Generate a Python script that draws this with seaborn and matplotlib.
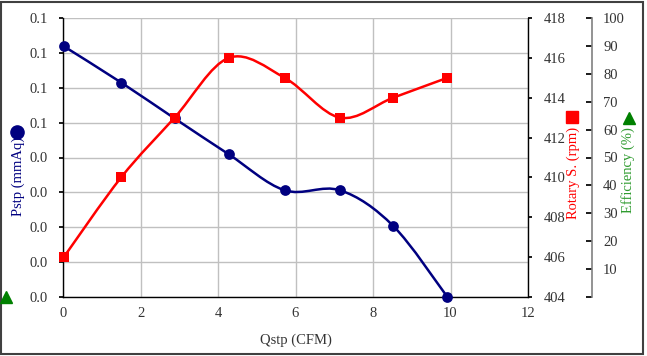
import numpy as np
import pandas as pd
import matplotlib
matplotlib.use('Agg')
import matplotlib.pyplot as plt
from matplotlib.path import Path
from matplotlib.patches import PathPatch, Rectangle
from matplotlib.lines import Line2D
import seaborn as sns

# data
qstp = [0.02, 1.5, 2.88, 4.28, 5.72, 7.15, 8.52, 9.92]
pstp = [0.0719, 0.0615, 0.0512, 0.0409, 0.0306, 0.0306, 0.0204, 0.0]
rpm = [406, 410, 413, 416, 415, 413, 414, 415]

x_ticks = [0, 2, 4, 6, 8, 10, 12]
p_ticks = [0.0, 0.01, 0.02, 0.03, 0.04, 0.05, 0.06, 0.07, 0.08]
p_tick_labels = ['0.0', '0.0', '0.0', '0.0', '0.0', '0.1', '0.1', '0.1', '0.1']
rpm_ticks = [404, 406, 408, 410, 412, 414, 416, 418]
eff_ticks = [0, 10, 20, 30, 40, 50, 60, 70, 80, 90, 100]
eff_tick_labels = [''] + [str(v) for v in eff_ticks[1:]]

df = pd.DataFrame({'Qstp': qstp, 'Pstp': pstp, 'rpm': rpm})

sns.set_theme(style='white')
plt.rcParams['font.family'] = ['Liberation Serif', 'DejaVu Serif']
plt.rcParams['font.size'] = 10.5

NAVY = '#000080'
RED = '#FF0000'
GREEN = '#008000'
GRID = '#c0c0c0'
TXT = '#333333'


def smooth_path(xs, ys):
    # Excel style smoothed line: cubic bezier through the points
    pts = np.column_stack([xs, ys]).astype(float)
    n = len(pts)
    verts = [pts[0]]
    codes = [Path.MOVETO]
    for i in range(n - 1):
        p0 = pts[max(i - 1, 0)]
        p1 = pts[i]
        p2 = pts[i + 1]
        p3 = pts[min(i + 2, n - 1)]
        c1 = p1 + (p2 - p0) / 6.0
        c2 = p2 - (p3 - p1) / 6.0
        verts += [c1, c2, p2]
        codes += [Path.CURVE4] * 3
    return Path(verts, codes)


fig = plt.figure(figsize=(6.47, 3.56), dpi=100)
ax = fig.add_axes([63 / 647, 59 / 356, 465 / 647, 279 / 356])
ax2 = ax.twinx()
ax3 = ax.twinx()

# main axis (Pstp)
ax.set_xlim(0, 12)
ax.set_ylim(0, 0.08)
ax.set_xticks(x_ticks)
ax.set_yticks(p_ticks, p_tick_labels)
ax.grid(True, color=GRID, lw=1)
ax.set_axisbelow(True)
for s in ['top', 'right']:
    ax.spines[s].set_visible(False)
ax.spines['left'].set_color('black')
ax.spines['bottom'].set_color('black')
ax.spines['left'].set_linewidth(1)
ax.spines['bottom'].set_linewidth(1)
ax.tick_params(axis='y', direction='out', length=3, pad=8, colors=TXT, labelsize=10.5)
ax.tick_params(axis='x', direction='out', length=3, pad=4, colors=TXT, labelsize=10.5)
ax.tick_params(axis='both', color='black')
ax.set_xlabel('Qstp (CFM)', color=TXT, fontsize=10.5, labelpad=10)
ax.set_ylabel('')

ax.add_patch(PathPatch(smooth_path(df['Qstp'], df['Pstp']), fill=False,
                       edgecolor=NAVY, lw=1.8, zorder=3))
sns.scatterplot(data=df, x='Qstp', y='Pstp', ax=ax, color=NAVY, marker='o',
                s=60, edgecolor=NAVY, linewidth=0, zorder=4, clip_on=False)
ax.set_xlabel('Qstp (CFM)', color=TXT, fontsize=10.5, labelpad=10)
ax.set_ylabel('')

# rpm axis
ax2.set_ylim(404, 418)
ax2.set_yticks(rpm_ticks)
for s in ['top', 'left', 'bottom']:
    ax2.spines[s].set_visible(False)
ax2.spines['right'].set_color('black')
ax2.spines['right'].set_linewidth(1)
ax2.tick_params(axis='y', direction='out', length=3, pad=8, colors=TXT,
                labelsize=10.5)
ax2.tick_params(axis='y', color='black')
ax2.grid(False)
ax2.add_patch(PathPatch(smooth_path(df['Qstp'], df['rpm']), fill=False,
                        edgecolor=RED, lw=1.8, zorder=3))
sns.scatterplot(data=df, x='Qstp', y='rpm', ax=ax2, color=RED, marker='s',
                s=60, edgecolor=RED, linewidth=0, zorder=4, clip_on=False)
ax2.set_ylabel('')
ax2.set_xlabel('')

# efficiency axis (no data in this chart)
ax3.set_ylim(0, 100)
ax3.set_yticks(eff_ticks, eff_tick_labels)
for s in ['top', 'left', 'bottom']:
    ax3.spines[s].set_visible(False)
ax3.spines['right'].set_position(('axes', 529 / 465))
ax3.spines['right'].set_color('#808080')
ax3.spines['right'].set_linewidth(1.2)
ax3.tick_params(axis='y', direction='in', length=4, pad=8, colors=TXT,
                labelsize=10.5)
ax3.tick_params(axis='y', color='black')
ax3.grid(False)

# axis titles with their marker keys, placed like the original
fig.text(18 / 647, 1 - 176 / 356, 'Pstp (mmAq)', rotation=90, color=NAVY,
         ha='center', va='center', fontsize=10.5)
fig.add_artist(Line2D([17 / 647], [1 - 132 / 356], marker='o', color=NAVY,
                      markersize=9.5, transform=fig.transFigure))
fig.text(573 / 647, 1 - 173 / 356, 'Rotary S. (rpm)', rotation=90, color=RED,
         ha='center', va='center', fontsize=10.5)
fig.add_artist(Line2D([572 / 647], [1 - 117 / 356], marker='s', color=RED,
                      markersize=9, transform=fig.transFigure))
fig.text(628 / 647, 1 - 170 / 356, 'Efficiency (%)', rotation=90, color='#2e9b2e',
         ha='center', va='center', fontsize=10.5)
fig.add_artist(Line2D([629 / 647], [1 - 118 / 356], marker='^', color=GREEN,
                      markersize=9, transform=fig.transFigure))
fig.add_artist(Line2D([6 / 647], [1 - 297 / 356], marker='^', color=GREEN,
                      markersize=9, transform=fig.transFigure))

# outer frame
fig.add_artist(Rectangle((1 / 647, 2 / 356), 642 / 647, 352 / 356, fill=False,
                         edgecolor='#404040', lw=1.5, transform=fig.transFigure))

fig.savefig('out.png', dpi=100)
